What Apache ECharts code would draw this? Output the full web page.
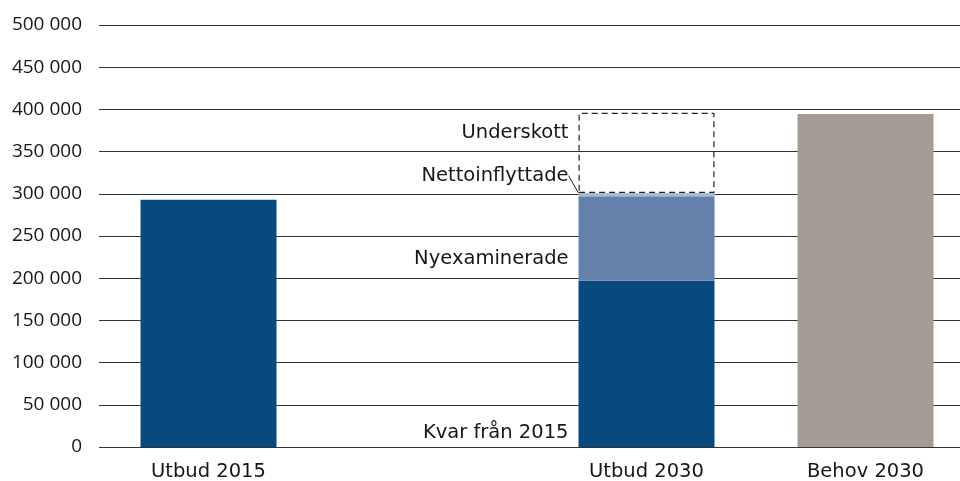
<!DOCTYPE html>
<html>
<head>
<meta charset="utf-8">
<script src="https://cdn.jsdelivr.net/npm/echarts@6/dist/echarts.min.js"></script>
<style>
  html, body { margin: 0; padding: 0; background: #fff; }
  #chart { width: 960px; height: 481px; }
</style>
</head>
<body>
<div id="chart"></div>
<script>
// kategorier (tom plats mellan 2015 och 2030)
const categories = ['Utbud 2015', '', 'Utbud 2030', 'Behov 2030'];

// staplade delar
const kvar = [293000, null, 197000, null];
const nyexaminerade = [null, null, 100000, null];
const nettoinflyttade = [null, null, 4000, null];
const underskott = [null, null, 95000, null];
const behov = [null, null, null, 394500];

const labelFont = '"DejaVu Sans", sans-serif';
const tickFont = '"Open Sans", "Noto Sans", sans-serif';
const textColor = '#161616';

var myChart = echarts.init(document.getElementById('chart'));

function annot(text, pos) {
  return {
    show: true,
    formatter: text,
    position: pos,
    align: 'right',
    verticalAlign: 'middle',
    fontSize: 19.5,
    color: textColor,
    fontFamily: labelFont
  };
}

var option = {
  animation: false,
  textStyle: { fontFamily: labelFont, color: textColor },
  grid: { left: 99, right: -15, top: 25, bottom: 34, outerBoundsMode: 'none', containLabel: false },
  xAxis: {
    type: 'category',
    data: categories,
    axisLine: { show: false },
    axisTick: { show: false },
    axisLabel: { fontSize: 19.5, color: textColor, margin: 15, fontFamily: labelFont }
  },
  yAxis: {
    type: 'value',
    min: 0,
    max: 500000,
    interval: 50000,
    axisLine: { show: false },
    axisTick: { show: false },
    axisLabel: {
      fontSize: 19,
      color: textColor,
      margin: 17,
      fontFamily: tickFont,
      formatter: function (v) {
        return String(v).replace(/\B(?=(\d{3})+(?!\d))/g, ' ');
      }
    },
    splitLine: { lineStyle: { color: '#333', width: 1.2 } }
  },
  series: [
    {
      name: 'Kvar från 2015',
      type: 'bar',
      stack: 'utbud',
      barWidth: 136,
      data: kvar,
      itemStyle: { color: '#074b7e' },
      label: Object.assign(annot('', [-10, 152]), {
        formatter: function (p) { return p.dataIndex === 2 ? 'Kvar från 2015' : ''; }
      })
    },
    {
      name: 'Nyexaminerade',
      type: 'bar',
      stack: 'utbud',
      barWidth: 136,
      data: nyexaminerade,
      itemStyle: { color: '#6581ab' },
      label: annot('Nyexaminerade', [-10, 63])
    },
    {
      name: 'Nettoinflyttade',
      type: 'bar',
      stack: 'utbud',
      barWidth: 136,
      data: nettoinflyttade,
      itemStyle: { color: '#a9bad3' },
      label: {
        show: true,
        formatter: 'Nettoinflyttade',
        position: 'left',
        distance: 5,
        fontSize: 19.5,
        color: textColor,
        fontFamily: labelFont
      },
      labelLayout: { dx: -5, dy: -19 },
      labelLine: { show: true, length2: 0, lineStyle: { color: '#222', width: 1 } }
    },
    {
      name: 'Underskott',
      type: 'bar',
      stack: 'utbud',
      barWidth: 136,
      data: underskott,
      itemStyle: {
        color: 'rgba(255,255,255,0)',
        borderColor: '#222',
        borderWidth: 1.2,
        borderType: [6, 4]
      },
      label: annot('Underskott', [-10, 20])
    },
    {
      name: 'Behov 2030',
      type: 'bar',
      stack: 'utbud',
      barWidth: 136,
      data: behov,
      itemStyle: { color: '#a59b92' }
    }
  ]
};

myChart.setOption(option);
</script>
</body>
</html>
